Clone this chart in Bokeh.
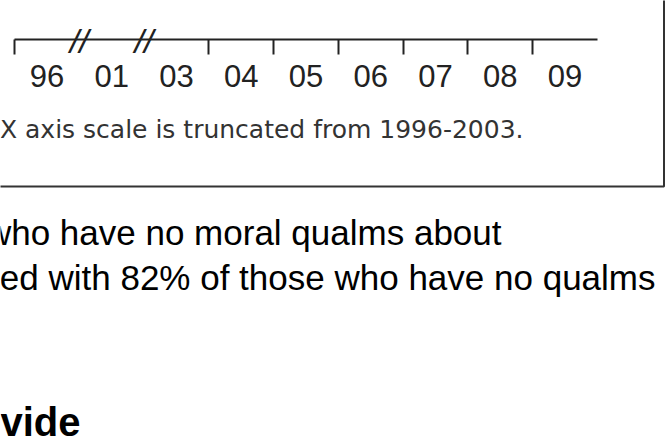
from bokeh.plotting import figure
from bokeh.models import (Range1d, FixedTicker, Label, LabelSet, BoxAnnotation,
                          ColumnDataSource, LinearAxis)
from bokeh.core.properties import value
from bokeh.embed import file_html
from bokeh.resources import INLINE

# ---- data ----
years = ["96", "01", "03", "04", "05", "06", "07", "08", "09"]
breaks_after = ["96", "01"]          # axis is broken after these years
caption = "X axis scale is truncated from 1996-2003."
body_lines = ["who have no moral qualms about",
              "ed with 82% of those who have no qualms"]
heading = "vide"

# ---- layout (page pixels) ----
W, H = 668, 438
FRAME_L, FRAME_R = 14, 597
AXIS_Y = 39
unit = (FRAME_R - FRAME_L) / len(years)

p = figure(width=W, height=H, output_backend="svg", toolbar_location=None,
           x_range=Range1d(-FRAME_L / unit, (W - FRAME_L) / unit),
           y_range=Range1d(H, 0),
           x_axis_location=None, y_axis_location=None, title=None, min_border=0)
p.extra_x_ranges = {"px": Range1d(0, W)}
p.outline_line_color = None
p.grid.visible = False
p.background_fill_color = "white"
p.border_fill_color = "white"

centers = [i + 0.5 for i in range(len(years))]
bounds = [i for i in range(len(years)) if i == 0 or years[i - 1] not in breaks_after]

ax = LinearAxis(fixed_location=AXIS_Y, bounds=(0, len(years)))
ax.ticker = FixedTicker(ticks=centers, minor_ticks=bounds)
ax.major_label_overrides = {c: y for c, y in zip(centers, years)}
ax.major_tick_line_color = None
ax.major_tick_out = 15
ax.major_tick_in = 0
ax.minor_tick_line_color = "#222222"
ax.minor_tick_line_width = 2
ax.minor_tick_out = 15
ax.minor_tick_in = 0
ax.axis_line_color = "#222222"
ax.axis_line_width = 2
ax.major_label_text_font = "Liberation Sans"
ax.major_label_text_font_size = "31px"
ax.major_label_text_color = "#222222"
ax.major_label_standoff = 10
p.add_layout(ax, "below")

# break marks on the truncated axis
brk_x = [years.index(b) + 1 for b in breaks_after]
brk_src = ColumnDataSource(dict(x=brk_x, y=[AXIS_Y + 1] * len(brk_x),
                                t=["//"] * len(brk_x)))
p.add_layout(LabelSet(x="x", y="y", text="t", source=brk_src,
                      text_align="center", text_baseline="middle",
                      text_font=value("Liberation Sans"), text_font_size="34px",
                      text_font_style="italic", text_color="#222222"))

# chart box (right and bottom edges visible)
p.add_layout(BoxAnnotation(left=-20, right=663.5, top=-20, bottom=186,
                           x_range_name="px",
                           fill_color=None, fill_alpha=0,
                           line_color="#333333", line_alpha=1.0, line_width=2))

p.add_layout(Label(x=523, y=129, x_range_name="px",
                   text=caption, text_align="right", text_baseline="alphabetic",
                   text_font="DejaVu Sans", text_font_size="25px",
                   text_color="#333333"))

for txt, xr, yb in zip(body_lines, [501, 655], [232, 277]):
    p.add_layout(Label(x=xr, y=yb, x_range_name="px",
                       text=txt, text_align="right", text_baseline="alphabetic",
                       text_font="Liberation Sans", text_font_size="35px",
                       text_color="#000000"))

p.add_layout(Label(x=80, y=421, x_range_name="px",
                   text=heading, text_align="right", text_baseline="alphabetic",
                   text_font="Liberation Sans", text_font_size="40px",
                   text_font_style="bold", text_color="#000000"))

open("out.html", "w").write(file_html(p, INLINE))
